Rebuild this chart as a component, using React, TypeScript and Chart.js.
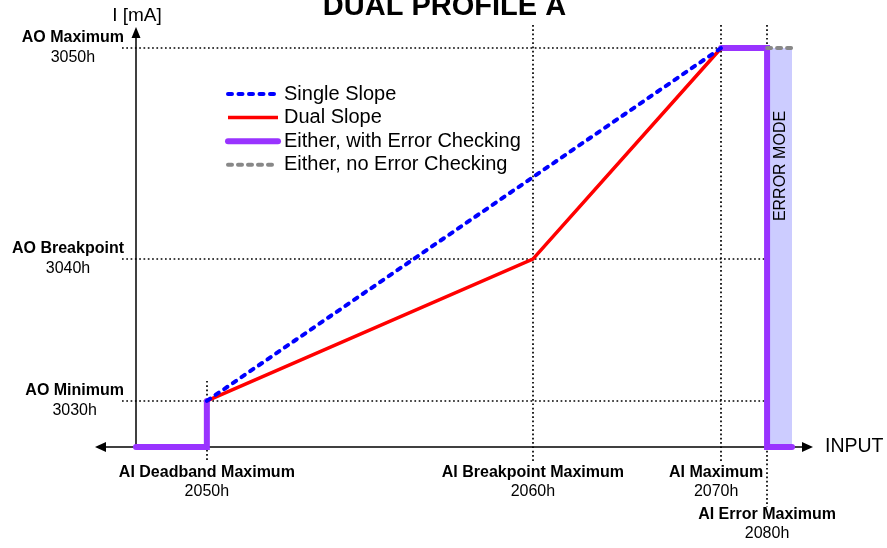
import React, { useEffect, useRef } from "react";
import { Chart, registerables } from "chart.js";

Chart.register(...registerables);

// ---- Data (schematic units: input 0..100, output 0..20) ----
const inputValues = [10.8, 60.5, 89.2, 96.2];
const inputNames = ["AI Deadband Maximum", "AI Breakpoint Maximum", "AI Maximum", "AI Error Maximum"];
const inputCodes = ["2050h", "2060h", "2070h", "2080h"];
const errorBandEnd = 100;

const outputValues = [2.31, 9.42, 20];
const outputNames = ["AO Minimum", "AO Breakpoint", "AO Maximum"];
const outputCodes = ["3030h", "3040h", "3050h"];

const singleSlopeX = [10.8, 89.2];
const singleSlopeY = [2.31, 20];
const dualSlopeX = [10.8, 60.5, 89.2];
const dualSlopeY = [2.31, 9.42, 20];
const errCheckLowX = [0, 10.8, 10.8];
const errCheckLowY = [0, 0, 2.31];
const errCheckHighX = [89.2, 96.2, 96.2, 100];
const errCheckHighY = [20, 20, 0, 0];
const noErrCheckX = [96.2, 100];
const noErrCheckY = [20, 20];
const errorBandX = [96.2, 100];
const errorBandY = [20, 20];

const titleText = "DUAL PROFILE A";
const yAxisLabel = "I [mA]";
const xAxisLabel = "INPUT";
const bandLabel = "ERROR MODE";

const FONT = "Arial, 'Liberation Sans', Helvetica, sans-serif";

const pts = (xs: number[], ys: number[]) => xs.map((x, i) => ({ x, y: ys[i] }));

const overlayPlugin = {
  id: "overlay",
  beforeDatasetsDraw(chart: any) {
    const { ctx, chartArea } = chart;
    const x = chart.scales.x;
    const y = chart.scales.y;
    ctx.save();
    const line = (x1: number, y1: number, x2: number, y2: number) => {
      ctx.beginPath();
      ctx.moveTo(x1, y1);
      ctx.lineTo(x2, y2);
      ctx.stroke();
    };
    // dotted reference lines
    ctx.strokeStyle = "#000";
    ctx.lineWidth = 1.7;
    ctx.setLineDash([1.7, 2.6]);
    const hLeft = chartArea.left - 14;
    const bandRight = x.getPixelForValue(errorBandEnd) - 4;
    outputValues.forEach((v, i) => {
      const py = Math.round(y.getPixelForValue(v));
      const end = i === outputValues.length - 1 ? x.getPixelForValue(inputValues[2]) : bandRight;
      line(hLeft, py, end, py);
    });
    inputValues.forEach((v, i) => {
      const px = Math.round(x.getPixelForValue(v));
      const top = i === 0 ? y.getPixelForValue(outputValues[0]) - 20 : chartArea.top - 23;
      const bottom = i === 3 ? chartArea.bottom + 60 : chartArea.bottom + 15;
      line(px, top, px, bottom);
    });
    ctx.setLineDash([]);
    // axes
    ctx.lineWidth = 1.5;
    ctx.fillStyle = "#000";
    const ox = chartArea.left;
    const oy = chartArea.bottom;
    line(ox, oy, ox, chartArea.top - 12);
    ctx.beginPath();
    ctx.moveTo(ox, chartArea.top - 21);
    ctx.lineTo(ox - 4.5, chartArea.top - 10);
    ctx.lineTo(ox + 4.5, chartArea.top - 10);
    ctx.closePath();
    ctx.fill();
    const xl = chartArea.left - 41;
    const xr = chartArea.right + 21;
    line(xl + 8, oy, xr - 8, oy);
    ctx.beginPath();
    ctx.moveTo(xl, oy);
    ctx.lineTo(xl + 11, oy - 5);
    ctx.lineTo(xl + 11, oy + 5);
    ctx.closePath();
    ctx.fill();
    ctx.beginPath();
    ctx.moveTo(xr, oy);
    ctx.lineTo(xr - 11, oy - 5);
    ctx.lineTo(xr - 11, oy + 5);
    ctx.closePath();
    ctx.fill();
    ctx.restore();
  },
  afterDatasetsDraw(chart: any) {
    const { ctx, chartArea } = chart;
    const x = chart.scales.x;
    const y = chart.scales.y;
    ctx.save();
    ctx.fillStyle = "#000";
    const text = (s: string, tx: number, ty: number, font: string, align: CanvasTextAlign = "center", base: CanvasTextBaseline = "middle") => {
      ctx.font = font;
      ctx.textAlign = align;
      ctx.textBaseline = base;
      ctx.fillText(s, tx, ty);
    };
    // title
    text(titleText, chart.width / 2 + 1, 15, `bold 29px ${FONT}`, "center", "alphabetic");
    // axis labels
    text(yAxisLabel, chartArea.left + 1, 16, `19px ${FONT}`);
    text(xAxisLabel, chartArea.right + 33, chartArea.bottom, `19.5px ${FONT}`, "left");
    // output labels
    const rightEdge = chartArea.left - 12;
    outputValues.forEach((v, i) => {
      const py = y.getPixelForValue(v);
      ctx.font = `bold 16px ${FONT}`;
      const w = ctx.measureText(outputNames[i]).width;
      text(outputNames[i], rightEdge, py - 10, `bold 16px ${FONT}`, "right");
      text(outputCodes[i], rightEdge - w / 2, py + 10, `16px ${FONT}`);
    });
    // input labels
    const offsets = [0, 0, -5, 0];
    inputValues.forEach((v, i) => {
      const px = x.getPixelForValue(v) + offsets[i];
      const base = i === 3 ? chartArea.bottom + 68 : chartArea.bottom + 26;
      text(inputNames[i], px, base, `bold 16px ${FONT}`);
      text(inputCodes[i], px, base + 19, `16px ${FONT}`);
    });
    // error mode band label
    const bx = (x.getPixelForValue(errorBandX[0]) + x.getPixelForValue(errorBandEnd)) / 2 + 1.5;
    ctx.save();
    ctx.translate(bx, chartArea.top + 118);
    ctx.rotate(-Math.PI / 2);
    text(bandLabel, 0, 0, `16px ${FONT}`);
    ctx.restore();
    // legend
    const lx = chartArea.left + 92;
    const ly = chartArea.top + 46;
    const items = chart.data.datasets.filter((d: any) => d.inLegend);
    items.forEach((d: any, i: number) => {
      const ry = ly + i * 23.6;
      ctx.save();
      ctx.strokeStyle = d.borderColor;
      ctx.lineWidth = d.borderWidth;
      ctx.lineCap = d.borderCapStyle || "butt";
      ctx.setLineDash(d.borderDash || []);
      ctx.beginPath();
      ctx.moveTo(lx, ry);
      ctx.lineTo(lx + 50, ry);
      ctx.stroke();
      ctx.restore();
      text(d.label, lx + 56, ry, `20px ${FONT}`, "left");
    });
    ctx.restore();
  },
};

export default function App() {
  const ref = useRef<HTMLCanvasElement>(null);
  useEffect(() => {
    if (!ref.current) return;
    const common = { pointRadius: 0, pointHoverRadius: 0, tension: 0, fill: false, clip: false as any };
    const chart = new Chart(ref.current, {
      type: "line",
      data: {
        datasets: [
          {
            ...common,
            label: "Single Slope",
            inLegend: true,
            data: pts(singleSlopeX, singleSlopeY),
            borderColor: "#0000FF",
            borderWidth: 4,
            borderDash: [4, 6.5],
            borderCapStyle: "round",
            order: 1,
          } as any,
          {
            ...common,
            label: "Dual Slope",
            inLegend: true,
            data: pts(dualSlopeX, dualSlopeY),
            borderColor: "#FF0000",
            borderWidth: 3.5,
            order: 2,
          } as any,
          {
            ...common,
            label: "Either, with Error Checking",
            inLegend: true,
            data: pts(errCheckLowX, errCheckLowY),
            borderColor: "#9933FF",
            borderWidth: 6,
            borderCapStyle: "round",
            borderJoinStyle: "miter",
            order: 4,
          } as any,
          {
            ...common,
            label: "Either, no Error Checking",
            inLegend: true,
            data: pts(noErrCheckX, noErrCheckY),
            borderColor: "#888888",
            borderWidth: 4,
            borderDash: [4, 6],
            borderCapStyle: "round",
            order: 3,
          } as any,
          {
            ...common,
            label: "Either, with Error Checking (error range)",
            data: pts(errCheckHighX, errCheckHighY),
            borderColor: "#9933FF",
            borderWidth: 6,
            borderCapStyle: "round",
            borderJoinStyle: "miter",
            order: 4,
          } as any,
          {
            ...common,
            label: "Error Mode",
            data: pts(errorBandX, errorBandY),
            borderWidth: 0,
            borderColor: "rgba(0,0,0,0)",
            backgroundColor: "#CCCCFF",
            fill: "origin",
            order: 6,
          } as any,
        ],
      },
      options: {
        animation: false,
        responsive: true,
        maintainAspectRatio: false,
        events: [],
        layout: { padding: { left: 136, right: 95, top: 48, bottom: 101 } },
        scales: {
          x: { type: "linear", min: 0, max: 100, display: false },
          y: { type: "linear", min: 0, max: 20, display: false },
        },
        plugins: {
          legend: { display: false },
          tooltip: { enabled: false },
          title: { display: false },
        },
      },
      plugins: [overlayPlugin],
    });
    return () => chart.destroy();
  }, []);
  return (
    <div style={{ position: "fixed", left: 0, top: 0, width: 887, height: 548, background: "#fff" }}>
      <canvas ref={ref} />
    </div>
  );
}
